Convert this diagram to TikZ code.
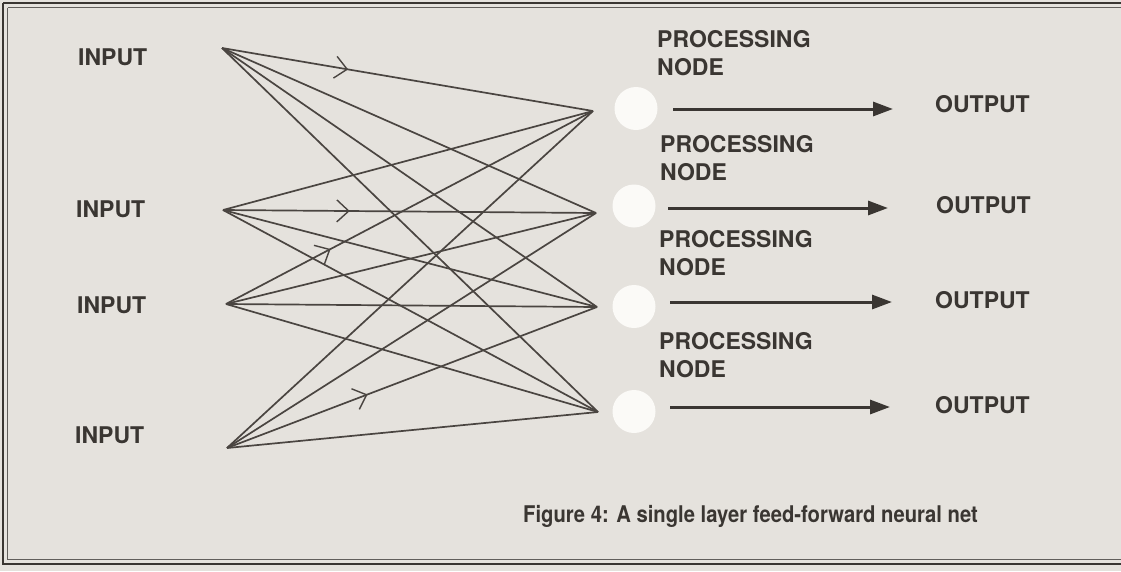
\documentclass[tikz,border=0pt]{standalone}
\usepackage{graphicx}
\usepackage{fontspec}
\setmainfont{TeX Gyre Heros}
\newfontfamily\heavysans{texgyreheros-bold}[Extension=.otf]
\usetikzlibrary{arrows.meta,decorations.markings}
\definecolor{paper}{HTML}{E5E2DD}
\definecolor{ink}{HTML}{3A3632}
\definecolor{wire}{HTML}{4A4541}
\definecolor{nodewhite}{HTML}{FBFAF7}
\begin{document}
\begin{tikzpicture}[x=1pt,y=-1pt,
  lbl/.style={font=\heavysans\fontsize{23}{28}\selectfont, text=ink, inner sep=0pt, anchor=base west},
  plbl/.style={font=\heavysans\fontsize{23}{28}\selectfont, text=ink, inner sep=0pt, anchor=north west, align=left},
  pnode/.style={circle, fill=nodewhite, minimum size=43pt, inner sep=0pt},
  wirestyle/.style={draw=wire, line width=1.7pt},
  midarrow/.style={postaction={decorate}, decoration={markings, mark=at position #1 with {\arrow[wire, line width=1.4pt]{Straight Barb[length=12pt,width=22pt]}}}},
  outarrow/.style={draw=ink, line width=3pt, -{Triangle[length=20pt,width=14pt]}}
]
\useasboundingbox (0,0) rectangle (1121,571);
\fill[paper] (0,0) rectangle (1121,571);
% frame
\draw[ink, line width=2.4pt] (3,3) -- (1125,3);
\draw[ink, line width=2.4pt] (3,3) -- (3,564) -- (1125,564);
\draw[ink!80, line width=1pt] (7.5,7.5) -- (1125,7.5);
\draw[ink!80, line width=1pt] (7.5,7.5) -- (7.5,559.5) -- (1125,559.5);

% input labels
\node[lbl] (in1) at (78,65) {INPUT};
\node[lbl] (in2) at (76,217) {INPUT};
\node[lbl] (in3) at (77,313) {INPUT};
\node[lbl] (in4) at (75,443) {INPUT};

% input points and junctions
\coordinate (i1) at (222,48);
\coordinate (i2) at (223,210);
\coordinate (i3) at (226,304);
\coordinate (i4) at (227,448);
\coordinate (j1) at (593,111);
\coordinate (j2) at (596,213);
\coordinate (j3) at (597,307);
\coordinate (j4) at (598,412);

% wires
\foreach \a in {1,2,3,4}{
  \foreach \b in {1,2,3,4}{
    \draw[wirestyle] (i\a) -- (j\b);
  }
}
\path[midarrow=0.34] (i1) -- (j1);
\path[midarrow=0.34] (i2) -- (j2);
\path[midarrow=0.285] (i3) -- (j1);
\path[midarrow=0.38] (i4) -- (j3);

% processing nodes
\node[pnode] (p1) at (636,108.5) {};
\node[pnode] (p2) at (634,206) {};
\node[pnode] (p3) at (634,306.5) {};
\node[pnode] (p4) at (634,411.5) {};

\node[plbl] (t1) at (657,30.5) {PROCESSING\\NODE};
\node[plbl] (t2) at (660,135.5) {PROCESSING\\NODE};
\node[plbl] (t3) at (659,230.5) {PROCESSING\\NODE};
\node[plbl] (t4) at (659,332.5) {PROCESSING\\NODE};

% outputs
\node[lbl] (o1) at (935,112) {OUTPUT};
\node[lbl] (o2) at (936,213) {OUTPUT};
\node[lbl] (o3) at (935,308) {OUTPUT};
\node[lbl] (o4) at (935,413) {OUTPUT};

\draw[outarrow] ([shift={(15.5,0.5)}]p1.east) -- ([shift={(-42,0.5)}]p1.east -| o1.west);
\draw[outarrow] ([shift={(12.5,2)}]p2.east) -- ([shift={(-48,2)}]p2.east -| o2.west);
\draw[outarrow] ([shift={(14.5,-4.5)}]p3.east) -- ([shift={(-43,-4.5)}]p3.east -| o3.west);
\draw[outarrow] ([shift={(14.5,-4.5)}]p4.east) -- ([shift={(-45,-4.5)}]p4.east -| o4.west);

% caption
\node[lbl] (cap) at (523,522) {\scalebox{0.88}[1]{Figure 4: A single layer feed-forward neural net}};
\end{tikzpicture}
\end{document}
